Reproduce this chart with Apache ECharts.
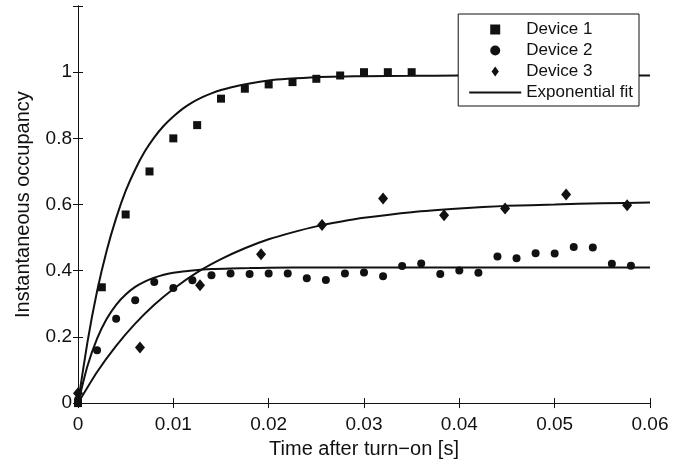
<!DOCTYPE html>
<html>
<head>
<meta charset="utf-8">
<script src="https://cdn.jsdelivr.net/npm/echarts@6/dist/echarts.min.js"></script>
<style>html,body{margin:0;padding:0;background:#fff}#chart{width:689px;height:464px}</style>
</head>
<body>
<div id="chart"></div>
<script>
const dev1X = [0, 0.0025, 0.005, 0.0075, 0.01, 0.0125, 0.015, 0.0175, 0.02, 0.0225, 0.025, 0.0275, 0.03, 0.0325, 0.035];
const dev1Y = [0, 0.35, 0.57, 0.70, 0.80, 0.84, 0.92, 0.95, 0.963, 0.97, 0.98, 0.99, 1.0, 1.0, 1.0];

const dev2X = [0, 0.002, 0.004, 0.006, 0.008, 0.01, 0.012, 0.014, 0.016, 0.018, 0.02, 0.022, 0.024, 0.026, 0.028,
  0.03, 0.032, 0.034, 0.036, 0.038, 0.04, 0.042, 0.044, 0.046, 0.048, 0.05, 0.052, 0.054, 0.056, 0.058];
const dev2Y = [0.01, 0.16, 0.255, 0.311, 0.366, 0.348, 0.371, 0.386, 0.392, 0.39, 0.392, 0.392, 0.377, 0.372, 0.392,
  0.395, 0.383, 0.414, 0.422, 0.39, 0.401, 0.394, 0.443, 0.438, 0.453, 0.452, 0.472, 0.47, 0.421, 0.415];

const dev3X = [0, 0.0065, 0.0128, 0.0192, 0.0256, 0.032, 0.0384, 0.0448, 0.0512, 0.0576];
const dev3Y = [0.03, 0.168, 0.356, 0.45, 0.538, 0.618, 0.568, 0.588, 0.63, 0.598];

// fitted curves, sampled off the figure
const fit1X = [0, 0.001, 0.002, 0.003, 0.004, 0.005, 0.006, 0.007, 0.008, 0.009, 0.01, 0.011, 0.012, 0.013, 0.014,
  0.015, 0.016, 0.018, 0.02, 0.022, 0.025, 0.028, 0.03, 0.035, 0.04, 0.05, 0.06];
const fit1Y = [0, 0.186, 0.338, 0.46, 0.559, 0.641, 0.706, 0.760, 0.803, 0.838, 0.866, 0.890, 0.909, 0.924, 0.936,
  0.946, 0.954, 0.966, 0.975, 0.980, 0.985, 0.987, 0.988, 0.989, 0.99, 0.99, 0.99];

const fit2X = [0, 0.001, 0.002, 0.003, 0.004, 0.005, 0.006, 0.007, 0.008, 0.009, 0.01, 0.011, 0.012, 0.014,
  0.016, 0.018, 0.02, 0.025, 0.03, 0.04, 0.05, 0.06];
const fit2Y = [0, 0.113, 0.195, 0.254, 0.297, 0.328, 0.351, 0.367, 0.379, 0.388, 0.394, 0.398, 0.401, 0.405,
  0.407, 0.408, 0.409, 0.41, 0.41, 0.41, 0.41, 0.41];

const fit3X = [0, 0.002, 0.004, 0.006, 0.008, 0.01, 0.0125, 0.015, 0.0175, 0.02, 0.0225, 0.025, 0.0275, 0.03,
  0.035, 0.04, 0.045, 0.05, 0.055, 0.06];
const fit3Y = [0, 0.094, 0.173, 0.24, 0.297, 0.345, 0.395, 0.435, 0.468, 0.495, 0.516, 0.534, 0.548, 0.56,
  0.577, 0.588, 0.596, 0.6, 0.604, 0.606];

const xTicks = {min: 0, max: 0.06, interval: 0.01};
const yTicks = {min: 0, max: 1.2, interval: 0.2};

const zip = (xs, ys) => xs.map((x, i) => [x, ys[i]]);
const font = "'Liberation Sans', Arial, sans-serif";
const ink = "#111";

const tickStyle = {inside: true, length: 5, lineStyle: {color: ink, width: 1}};
const lineStyle = {color: ink, width: 1};

const chart = echarts.init(document.getElementById("chart"), null, {renderer: "canvas"});

const fitLine = (data, name) => ({
  name, type: "line", data, symbol: "none", showSymbol: false, smooth: 0.2,
  lineStyle: {color: ink, width: 2}, itemStyle: {color: ink}, z: 3
});

const dots = (name, xs, ys, symbol, size) => ({
  name, type: "scatter", data: zip(xs, ys), symbol, symbolSize: size,
  itemStyle: {color: ink, opacity: 1}, z: 4
});

chart.setOption({
  animation: false,
  textStyle: {fontFamily: font},
  grid: {left: 78, right: 39, top: 6, bottom: 58, containLabel: false},
  legend: {
    orient: "vertical", right: 50, top: 14,
    backgroundColor: "#fff", borderColor: ink, borderWidth: 1,
    padding: [7, 6, 5, 10],
    itemWidth: 52, itemHeight: 10, itemGap: 4, symbolKeepAspect: true,
    textStyle: {fontFamily: font, fontSize: 17, color: ink},
    data: [
      {name: "Device 1", icon: "path://M0,0H8V8H0Z"},
      {name: "Device 2", icon: "circle"},
      {name: "Device 3", icon: "path://M4,0L8,5.5L4,11L0,5.5Z"},
      {name: "Exponential fit", itemStyle: {opacity: 0}}
    ]
  },
  xAxis: [{
    type: "value", ...xTicks,
    name: "Time after turn\u2212on [s]", nameLocation: "middle", nameGap: 33,
    nameTextStyle: {fontFamily: font, fontSize: 20, color: ink},
    axisLine: {show: true, lineStyle}, axisTick: tickStyle, splitLine: {show: false},
    axisLabel: {fontFamily: font, fontSize: 19, color: ink, margin: 12,
      formatter: v => v === 0 ? "0" : v.toFixed(2)}
  }, {
    type: "value", ...xTicks, position: "top",
    axisLine: {show: true, lineStyle}, axisTick: tickStyle, splitLine: {show: false},
    axisLabel: {show: false}
  }],
  yAxis: [{
    type: "value", ...yTicks,
    name: "Instantaneous occupancy", nameLocation: "middle", nameGap: 45,
    nameTextStyle: {fontFamily: font, fontSize: 20, color: ink},
    axisLine: {show: true, lineStyle}, axisTick: tickStyle, splitLine: {show: false},
    axisLabel: {fontFamily: font, fontSize: 19, color: ink, margin: 6,
      formatter: v => v > 1.1 ? "" : String(+v.toFixed(1))}
  }, {
    type: "value", ...yTicks, position: "right",
    axisLine: {show: true, lineStyle}, axisTick: tickStyle, splitLine: {show: false},
    axisLabel: {show: false}
  }],
  series: [
    dots("Device 1", dev1X, dev1Y, "rect", 8),
    dots("Device 2", dev2X, dev2Y, "circle", 8),
    dots("Device 3", dev3X, dev3Y, "diamond", [10, 12]),
    fitLine(zip(fit1X, fit1Y), "Exponential fit"),
    fitLine(zip(fit2X, fit2Y), "Exponential fit"),
    fitLine(zip(fit3X, fit3Y), "Exponential fit")
  ]
});
</script>
</body>
</html>
